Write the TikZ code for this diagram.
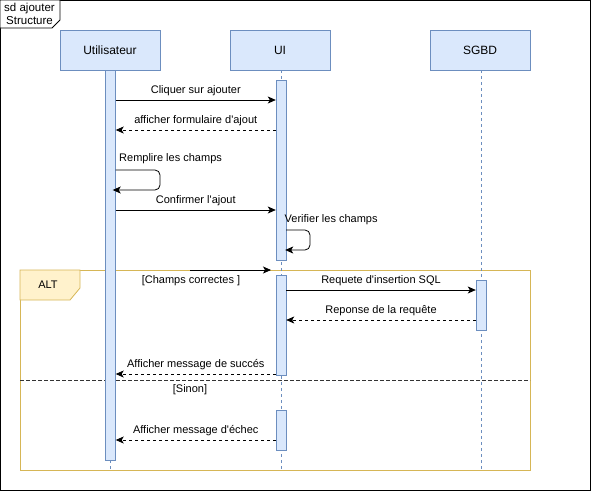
\documentclass[tikz,border=0pt]{standalone}
\usepackage{fontspec}
\setmainfont{Liberation Sans}
\usetikzlibrary{arrows.meta}
\definecolor{lblue}{HTML}{DAE8FC}
\definecolor{sblue}{HTML}{6C8EBF}
\definecolor{lyel}{HTML}{FFF2CC}
\definecolor{syel}{HTML}{D6B656}
\definecolor{sepgray}{HTML}{333333}
\newcommand{\apos}{\textquotesingle}
\begin{document}
\begin{tikzpicture}[x=1pt,y=-1pt,
  font=\fontsize{11}{13}\selectfont,
  head/.style={draw=sblue, fill=lblue, minimum width=100pt, minimum height=40pt, inner sep=0pt, font=\fontsize{12}{14}\selectfont},
  act/.style={draw=sblue, fill=lblue, minimum width=10pt, inner sep=0pt},
  life/.style={draw=sblue, dash pattern=on 3pt off 3pt, line width=0.7pt},
  msg/.style={draw=black, line width=0.8pt, -{Stealth[length=8pt,width=7pt,inset=2pt]}},
  ret/.style={msg, dash pattern=on 3pt off 3pt},
  lbl/.style={inner sep=0pt, anchor=center}
]
\useasboundingbox (0,0) rectangle (591,491);
% outer frame
\draw[line width=1.2pt] (0.7,0.7) rectangle (590.3,490.3);
\draw[fill=white, line width=0.8pt] (0,0) -- (60,0) -- (60,20) -- (52,28) -- (0,28) -- cycle;
\node[lbl, align=center, font=\fontsize{11.5}{13}\selectfont] (sd) at (29.5,14) {sd ajouter\\Structure};

% heads
\node[head] (u) at (110,50) {Utilisateur};
\node[head] (ui) at (280,50) {UI};
\node[head] (db) at (480,50) {SGBD};

% alt frame
\draw[syel, line width=0.8pt] (20,270) rectangle (530,470);
\draw[syel, fill=lyel, line width=0.8pt] (20,270) -- (80,270) -- (80,288) -- (70,300) -- (20,300) -- cycle;
\node[lbl] (alt) at (48,285) {ALT};

% lifelines
\coordinate (uend) at (110.5,470);
\coordinate (uiend) at (281,470);
\coordinate (dbend) at (481,470);
\draw[life] (u.south -| uend) -- (uend);
\draw[life] (ui.south -| uiend) -- (uiend);
\draw[life] (db.south -| dbend) -- (dbend);

% separator
\draw[sepgray, line width=1pt, dash pattern=on 3.5pt off 2.5pt] (20,380) -- (530,380);

% activations
\node[act, minimum height=390pt] (ua) at (110.5,265) {};
\node[act, minimum height=180pt] (ui1) at (281,170) {};
\node[act, minimum height=100pt] (ui2) at (281,325) {};
\node[act, minimum height=40pt] (ui3) at (281,430) {};
\node[act, minimum height=50pt] (db1) at (481,305) {};

% messages
\draw[msg] (ua.east |- 0,100) -- (ui1.west |- 0,100)
  node[lbl, midway, yshift=9.5pt] {Cliquer sur ajouter};
\draw[ret] (ui1.west |- 0,130) -- (ua.east |- 0,130)
  node[lbl, midway, yshift=9.5pt] {afficher formulaire d\apos ajout};
\draw[msg, rounded corners=5pt, shorten >=-3pt] (ua.east |- 0,170) -- (160,170) -- (160,190) -- (ua.east |- 0,190);
\node[lbl, anchor=west] (t3) at (119,159) {Remplire les champs};
\draw[msg] (ua.east |- 0,210) -- (ui1.west |- 0,210)
  node[lbl, midway, yshift=9.5pt] {Confirmer l\apos ajout};
\draw[msg, rounded corners=5pt, shorten >=-1pt] (ui1.east |- 0,230) -- (310,230) -- (310,250) -- (ui1.east |- 0,250);
\node[lbl, anchor=west] (t5) at (284.5,219.5) {Verifier les champs};

\coordinate (found) at (190,270);
\coordinate (foundend) at (271,270);
\draw[msg] (found) -- (foundend);
\node[lbl] (g1) at (191,281) {[Champs correctes ]};

\draw[msg] (ui2.east |- 0,290) -- (db1.west |- 0,290)
  node[lbl, midway, yshift=9.5pt] {Requete d\apos insertion SQL};
\draw[ret] (db1.west |- 0,320) -- (ui2.east |- 0,320)
  node[lbl, midway, yshift=9.5pt] {Reponse de la requête};
\draw[ret] (ui2.west |- 0,374) -- (ua.east |- 0,374)
  node[lbl, midway, yshift=9.5pt] {Afficher message de succés};
\node[lbl] (g2) at (190,390) {[Sinon]};
\draw[ret] (ui3.west |- 0,440) -- (ua.east |- 0,440)
  node[lbl, midway, yshift=9.5pt] {Afficher message d\apos échec};
\end{tikzpicture}
\end{document}
